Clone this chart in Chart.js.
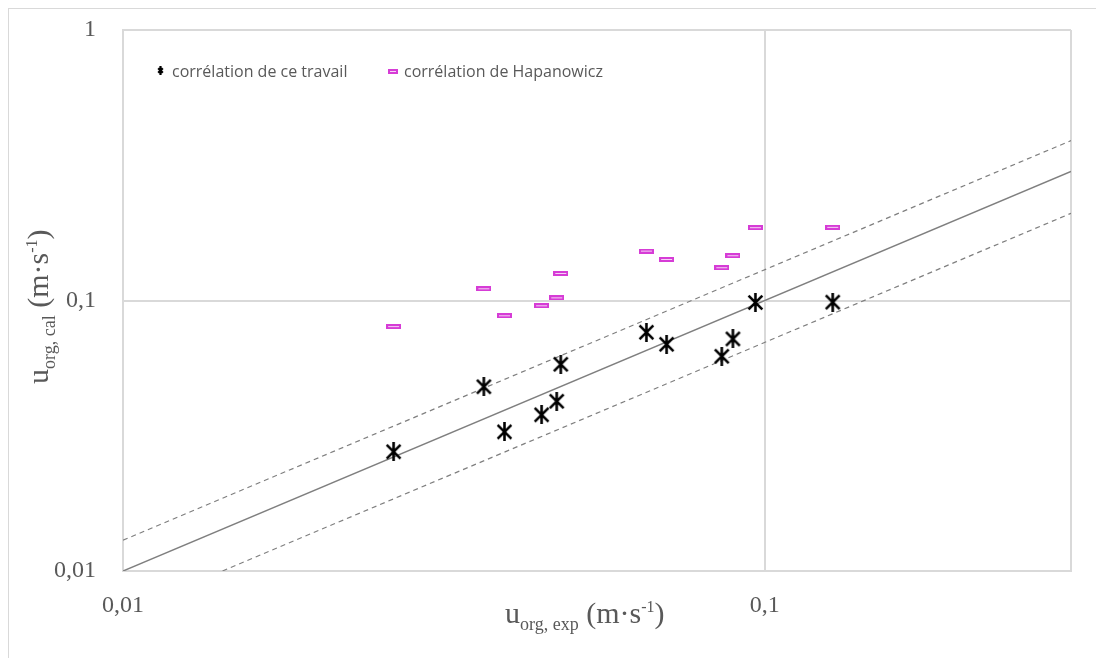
<!DOCTYPE html>
<html>
<head>
<meta charset="utf-8">
<script src="https://cdn.jsdelivr.net/npm/chart.js@4/dist/chart.umd.min.js"></script>
<style>
  html, body { margin:0; padding:0; background:#fff; overflow:hidden; }
  #wrap { position:relative; width:1096px; height:658px; }
  #frame { position:absolute; left:8px; top:8px; width:1100px; height:700px; border:1px solid #d9d9d9; }
  #c { position:absolute; left:0; top:0; }
</style>
</head>
<body>
<div id="wrap">
  <div id="frame"></div>
  <canvas id="c" width="1096" height="658"></canvas>
</div>
<script>
// vitesses mesurées (x) et calculées (y), m/s
const uExp = [0.0264, 0.0365, 0.0393, 0.0449, 0.0474, 0.0481, 0.0654, 0.0703, 0.0857, 0.0892, 0.0967, 0.1276];
const uCalTravail = [0.0276, 0.0480, 0.0327, 0.0378, 0.0424, 0.0581, 0.0763, 0.0689, 0.0622, 0.0721, 0.0983, 0.0986];
const uCalHapanowicz = [0.0801, 0.1105, 0.0878, 0.0956, 0.1023, 0.1259, 0.1523, 0.1418, 0.1322, 0.1464, 0.1859, 0.1864];

// droite de parité et bandes ±30 %
const diagX = [0.01, 0.3];
const bandFactors = [1.3, 0.7];

const xTicks = [0.01, 0.1, 0.3];
const yTicks = [0.01, 0.1, 1];
const tickLabels = {0.01:"0,01", 0.1:"0,1", 1:"1"};

const legendLabels = ["corrélation de ce travail", "corrélation de Hapanowicz"];

const GRAY_TXT = "#595959";
const GRID = "#d9d9d9";

function starMarker(size, lw) {
  const c = document.createElement("canvas");
  c.width = size; c.height = size;
  const g = c.getContext("2d");
  g.strokeStyle = "#000"; g.lineWidth = lw; g.lineCap = "butt";
  const m = lw, s = size - lw;
  g.beginPath();
  g.moveTo(m, m); g.lineTo(s, s);
  g.moveTo(s, m); g.lineTo(m, s);
  g.moveTo(size/2, 0); g.lineTo(size/2, size);
  g.stroke();
  return c;
}

function dashMarker(w, h) {
  const c = document.createElement("canvas");
  c.width = w; c.height = h;
  const g = c.getContext("2d");
  g.fillStyle = "#d63cd6";
  g.fillRect(0, 0, w, h);
  g.fillStyle = "#f6d2f6";
  g.fillRect(2, 2, w - 4, h - 4);
  return c;
}

const starImg = starMarker(19, 2.6);
const dashImg = dashMarker(15, 5);
const starLegend = starMarker(9, 2.2);
const dashLegend = dashMarker(10, 5);

const pts = ys => uExp.map((x, i) => ({x, y: ys[i]}));

// titres avec indices / exposants
function drawRich(ctx, parts, x, y) {
  let cx = x;
  parts.forEach(p => {
    ctx.font = p.size + "px 'Liberation Serif', 'DejaVu Serif', serif";
    ctx.fillText(p.t, cx, y + (p.dy || 0));
    cx += ctx.measureText(p.t).width;
  });
}

const titleParts = sub => [
  {t:"u", size:30},
  {t:sub, size:18, dy:7},
  {t:" (m·s", size:30},
  {t:"-1", size:16, dy:-11},
  {t:")", size:30}
];

const titlesAndLegend = {
  id: "titlesAndLegend",
  afterDraw(chart) {
    const ctx = chart.ctx;
    ctx.save();
    ctx.fillStyle = GRAY_TXT;
    ctx.textBaseline = "alphabetic";
    ctx.textAlign = "left";

    drawRich(ctx, titleParts("org, exp"), 505, 623);

    ctx.save();
    ctx.translate(48, 384);
    ctx.rotate(-Math.PI / 2);
    drawRich(ctx, titleParts("org, cal"), 0, 0);
    ctx.restore();

    // légende
    ctx.drawImage(starLegend, 156, 66);
    ctx.drawImage(dashLegend, 388, 69);
    ctx.font = "16px 'Liberation Sans Narrow', 'Open Sans', sans-serif";
    ctx.fillText(legendLabels[0], 172, 77);
    ctx.fillText(legendLabels[1], 404, 77);
    ctx.restore();
  }
};

const tickFont = {family:"'Liberation Serif', 'DejaVu Serif', serif", size:24};

new Chart(document.getElementById("c"), {
  type: "scatter",
  data: {
    datasets: [
      { label: legendLabels[0], data: pts(uCalTravail), pointStyle: starImg, pointRadius: 9, showLine: false },
      { label: legendLabels[1], data: pts(uCalHapanowicz), pointStyle: dashImg, pointRadius: 7, showLine: false },
      { label: "y=x", data: diagX.map(x => ({x, y:x})), showLine: true, pointRadius: 0,
        borderColor: "#7f7f7f", borderWidth: 1.5 },
      ...bandFactors.map(f => ({
        label: "band " + f, data: diagX.map(x => ({x, y:x*f})), showLine: true, pointRadius: 0,
        borderColor: "#7f7f7f", borderWidth: 1.2, borderDash: [5, 4]
      }))
    ]
  },
  options: {
    responsive: false,
    animation: false,
    events: [],
    layout: { padding: { top: 30, right: 25, left: 0, bottom: 0 } },
    plugins: { legend: { display: false }, tooltip: { enabled: false } },
    scales: {
      x: {
        type: "logarithmic", min: 0.01, max: 0.3,
        afterBuildTicks: s => { s.ticks = xTicks.map(v => ({value: v})); },
        afterFit: s => { s.height = 87; s.paddingLeft = 0; s.paddingRight = 0; },
        ticks: { padding: 20, color: GRAY_TXT, font: tickFont, maxRotation: 0,
                 callback: v => tickLabels[v] || "" },
        grid: { color: GRID, lineWidth: 2, drawTicks: false },
        border: { color: GRID, width: 2 }
      },
      y: {
        type: "logarithmic", min: 0.01, max: 1,
        afterBuildTicks: s => { s.ticks = yTicks.map(v => ({value: v})); },
        afterFit: s => { s.width = 123; s.paddingTop = 0; s.paddingBottom = 0; },
        ticks: { padding: 27, color: GRAY_TXT, font: tickFont,
                 callback: v => tickLabels[v] || "" },
        grid: { color: GRID, lineWidth: 2, drawTicks: false },
        border: { color: GRID, width: 2 }
      }
    }
  },
  plugins: [titlesAndLegend]
});
</script>
</body>
</html>
